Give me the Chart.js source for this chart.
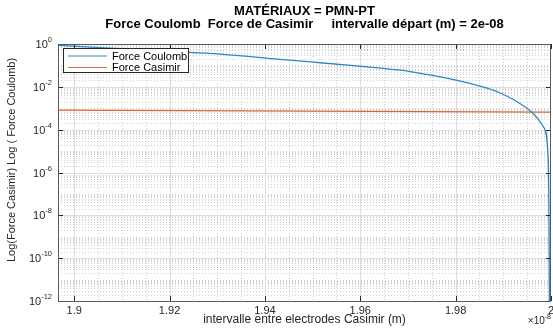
<!DOCTYPE html>
<html>
<head>
  <meta charset="utf-8">
  <title>Force Coulomb / Force de Casimir</title>
  <script src="https://cdn.jsdelivr.net/npm/chart.js@4.4.1/dist/chart.umd.min.js"></script>
  <style>
    body { margin: 0; background: #fff; }
  </style>
</head>
<body>
  <canvas id="force-chart" width="553" height="329"></canvas>

  <script>
    // intervalle entre electrodes (m) et forces (normalisées)
    const gapCoulomb = [1.8966e-8, 1.9055e-8, 1.9195e-8, 1.9307e-8, 1.94e-8, 1.9496e-8, 1.958e-8,
                        1.9643e-8, 1.9685e-8, 1.974e-8, 1.9784e-8, 1.9853e-8, 1.989e-8, 1.9922e-8,
                        1.9958e-8, 1.9985e-8, 1.9994e-8, 1.9996e-8, 1.99965e-8];
    const forceCoulomb = [0.87, 0.68, 0.47, 0.34, 0.22, 0.145, 0.1,
                          0.074, 0.06, 0.038, 0.025, 0.0105, 0.0056, 0.0025,
                          7.1e-4, 1.26e-4, 5e-6, 1e-9, 1e-12];
    const gapCasimir = [1.8966e-8, 1.948e-8, 2e-8];
    const forceCasimir = [8.2e-4, 7.4e-4, 6.6e-4];

    const xTicks = [1.9e-8, 1.92e-8, 1.94e-8, 1.96e-8, 1.98e-8, 2e-8];
    const xTickLabels = ['1.9', '1.92', '1.94', '1.96', '1.98', '2'];
    const yTicks = [1e-12, 1e-10, 1e-8, 1e-6, 1e-4, 1e-2, 1];
    const yTickExponents = ['-12', '-10', '-8', '-6', '-4', '-2', '0'];
    const yTitle = 'Log(Force Casimir) Log ( Force Coulomb)';

    const FONT = "'Liberation Sans', Arial, sans-serif";
    const AXIS_COLOR = '#262626';

    function toPoints(xs, ys) {
      return xs.map((v, i) => ({ x: v, y: ys[i] }));
    }

    // grille style MATLAB (majeure + mineure pointillée), ticks internes, légende
    const matlabAxes = {
      id: 'matlabAxes',
      beforeDatasetsDraw(chart) {
        const { ctx, chartArea: a, scales: { x, y } } = chart;
        ctx.save();
        ctx.beginPath();
        ctx.rect(a.left, a.top, a.width, a.height);
        ctx.clip();
        ctx.lineWidth = 1;

        // mineure verticale tous les 0.005e-8
        ctx.strokeStyle = '#d0d0d0';
        ctx.setLineDash([1, 2]);
        ctx.beginPath();
        for (let i = 379; i <= 400; i++) {
          const px = Math.round(x.getPixelForValue(i * 0.005e-8)) + 0.5;
          ctx.moveTo(px, a.top);
          ctx.lineTo(px, a.bottom);
        }
        // mineure horizontale k*10^n
        for (let n = -12; n < 0; n++) {
          for (let k = 1; k <= 9; k++) {
            const py = Math.round(y.getPixelForValue(k * Math.pow(10, n))) + 0.5;
            ctx.moveTo(a.left, py);
            ctx.lineTo(a.right, py);
          }
        }
        ctx.stroke();

        // majeure
        ctx.setLineDash([]);
        ctx.strokeStyle = '#dedede';
        ctx.beginPath();
        xTicks.forEach(v => {
          const px = Math.round(x.getPixelForValue(v)) + 0.5;
          ctx.moveTo(px, a.top);
          ctx.lineTo(px, a.bottom);
        });
        yTicks.forEach(v => {
          const py = Math.round(y.getPixelForValue(v)) + 0.5;
          ctx.moveTo(a.left, py);
          ctx.lineTo(a.right, py);
        });
        ctx.stroke();
        ctx.restore();
      },
      afterDatasetsDraw(chart) {
        const { ctx, chartArea: a, scales: { x, y } } = chart;
        ctx.save();
        ctx.strokeStyle = AXIS_COLOR;
        ctx.lineWidth = 1;

        // ticks internes
        ctx.beginPath();
        xTicks.forEach(v => {
          const px = Math.round(x.getPixelForValue(v)) + 0.5;
          ctx.moveTo(px, a.bottom); ctx.lineTo(px, a.bottom - 5);
          ctx.moveTo(px, a.top); ctx.lineTo(px, a.top + 5);
        });
        yTicks.forEach(v => {
          const py = Math.round(y.getPixelForValue(v)) + 0.5;
          ctx.moveTo(a.left, py); ctx.lineTo(a.left + 5, py);
          ctx.moveTo(a.right, py); ctx.lineTo(a.right - 5, py);
        });
        ctx.stroke();

        // cadre
        ctx.strokeStyle = '#5a5a5a';
        ctx.strokeRect(Math.round(a.left) + 0.5, Math.round(a.top) + 0.5,
                       Math.round(a.width) - 1, Math.round(a.height));

        // étiquettes x
        ctx.fillStyle = AXIS_COLOR;
        ctx.font = '11px ' + FONT;
        ctx.textAlign = 'center';
        ctx.textBaseline = 'middle';
        xTicks.forEach((v, i) => {
          ctx.fillText(xTickLabels[i], x.getPixelForValue(v), a.bottom + 10);
        });

        // étiquettes y : 10^n
        yTicks.forEach((v, i) => {
          const py = y.getPixelForValue(v);
          const exp = yTickExponents[i];
          ctx.font = '7.5px ' + FONT;
          const ew = ctx.measureText(exp).width;
          const right = a.left - 6;
          ctx.textAlign = 'left';
          ctx.fillText(exp, right - ew, py - 4);
          ctx.font = '11px ' + FONT;
          ctx.textAlign = 'right';
          ctx.fillText('10', right - ew, py + 1);
        });

        // facteur d'échelle ×10^-8
        ctx.textAlign = 'right';
        ctx.font = '7px ' + FONT;
        const ew = ctx.measureText('-8').width;
        ctx.fillText('-8', a.right, 317);
        ctx.font = '10px ' + FONT;
        ctx.fillText('\u00d710', a.right - ew, 321);

        // titre de l'axe y
        ctx.save();
        ctx.translate(12, 160);
        ctx.rotate(-Math.PI / 2);
        ctx.font = '11px ' + FONT;
        ctx.textAlign = 'center';
        ctx.fillText(yTitle, 0, 0);
        ctx.restore();

        // légende
        const lx = 63, ly = 48, lw = 125, lh = 24;
        ctx.fillStyle = '#fff';
        ctx.fillRect(lx, ly, lw, lh);
        ctx.strokeStyle = AXIS_COLOR;
        ctx.strokeRect(lx + 0.5, ly + 0.5, lw, lh);
        chart.data.datasets.forEach((ds, i) => {
          const ry = ly + 8 + i * 11.5;
          ctx.strokeStyle = ds.borderColor;
          ctx.lineWidth = 1.2;
          ctx.beginPath();
          ctx.moveTo(lx + 5, ry);
          ctx.lineTo(lx + 44, ry);
          ctx.stroke();
          ctx.fillStyle = '#000';
          ctx.font = '11px ' + FONT;
          ctx.textAlign = 'left';
          ctx.fillText(ds.label, lx + 49, ry + 0.5);
        });
        ctx.restore();
      }
    };

    new Chart(document.getElementById('force-chart'), {
      type: 'line',
      data: {
        datasets: [{
          label: 'Force Coulomb',
          data: toPoints(gapCoulomb, forceCoulomb),
          borderColor: '#2a86c3',
          borderWidth: 1.3,
          pointRadius: 0,
          cubicInterpolationMode: 'monotone'
        }, {
          label: 'Force Casimir',
          data: toPoints(gapCasimir, forceCasimir),
          borderColor: '#dc6634',
          borderWidth: 1.3,
          pointRadius: 0
        }]
      },
      options: {
        responsive: false,
        animation: false,
        layout: { padding: { left: 0, right: 2, top: 0, bottom: 0 } },
        plugins: {
          legend: { display: false },
          tooltip: { enabled: false },
          title: {
            display: true,
            fullSize: false,
            text: ['MATÉRIAUX = PMN-PT',
                   'Force Coulomb  Force de Casimir     intervalle départ (m) = 2e-08'],
            color: '#000',
            font: { family: FONT, size: 13, weight: 'bold', lineHeight: 1.0 },
            padding: { top: 5, bottom: 13 }
          }
        },
        scales: {
          x: {
            type: 'linear',
            min: gapCoulomb[0],
            max: 2e-8,
            afterBuildTicks: axis => { axis.ticks = xTicks.map(v => ({ value: v })); },
            afterFit: axis => { axis.height = 28; },
            grid: { display: false },
            border: { display: false },
            ticks: { display: false },
            title: {
              display: true,
              text: 'intervalle entre electrodes Casimir (m)',
              color: AXIS_COLOR,
              font: { family: FONT, size: 12 },
              padding: { top: 0, bottom: 2 }
            }
          },
          y: {
            type: 'logarithmic',
            min: 1e-12,
            max: 1,
            afterBuildTicks: axis => { axis.ticks = yTicks.map(v => ({ value: v })); },
            afterFit: axis => { axis.width = 58; },
            grid: { display: false },
            border: { display: false },
            ticks: { display: false }
          }
        }
      },
      plugins: [matlabAxes]
    });
  </script>
</body>
</html>
